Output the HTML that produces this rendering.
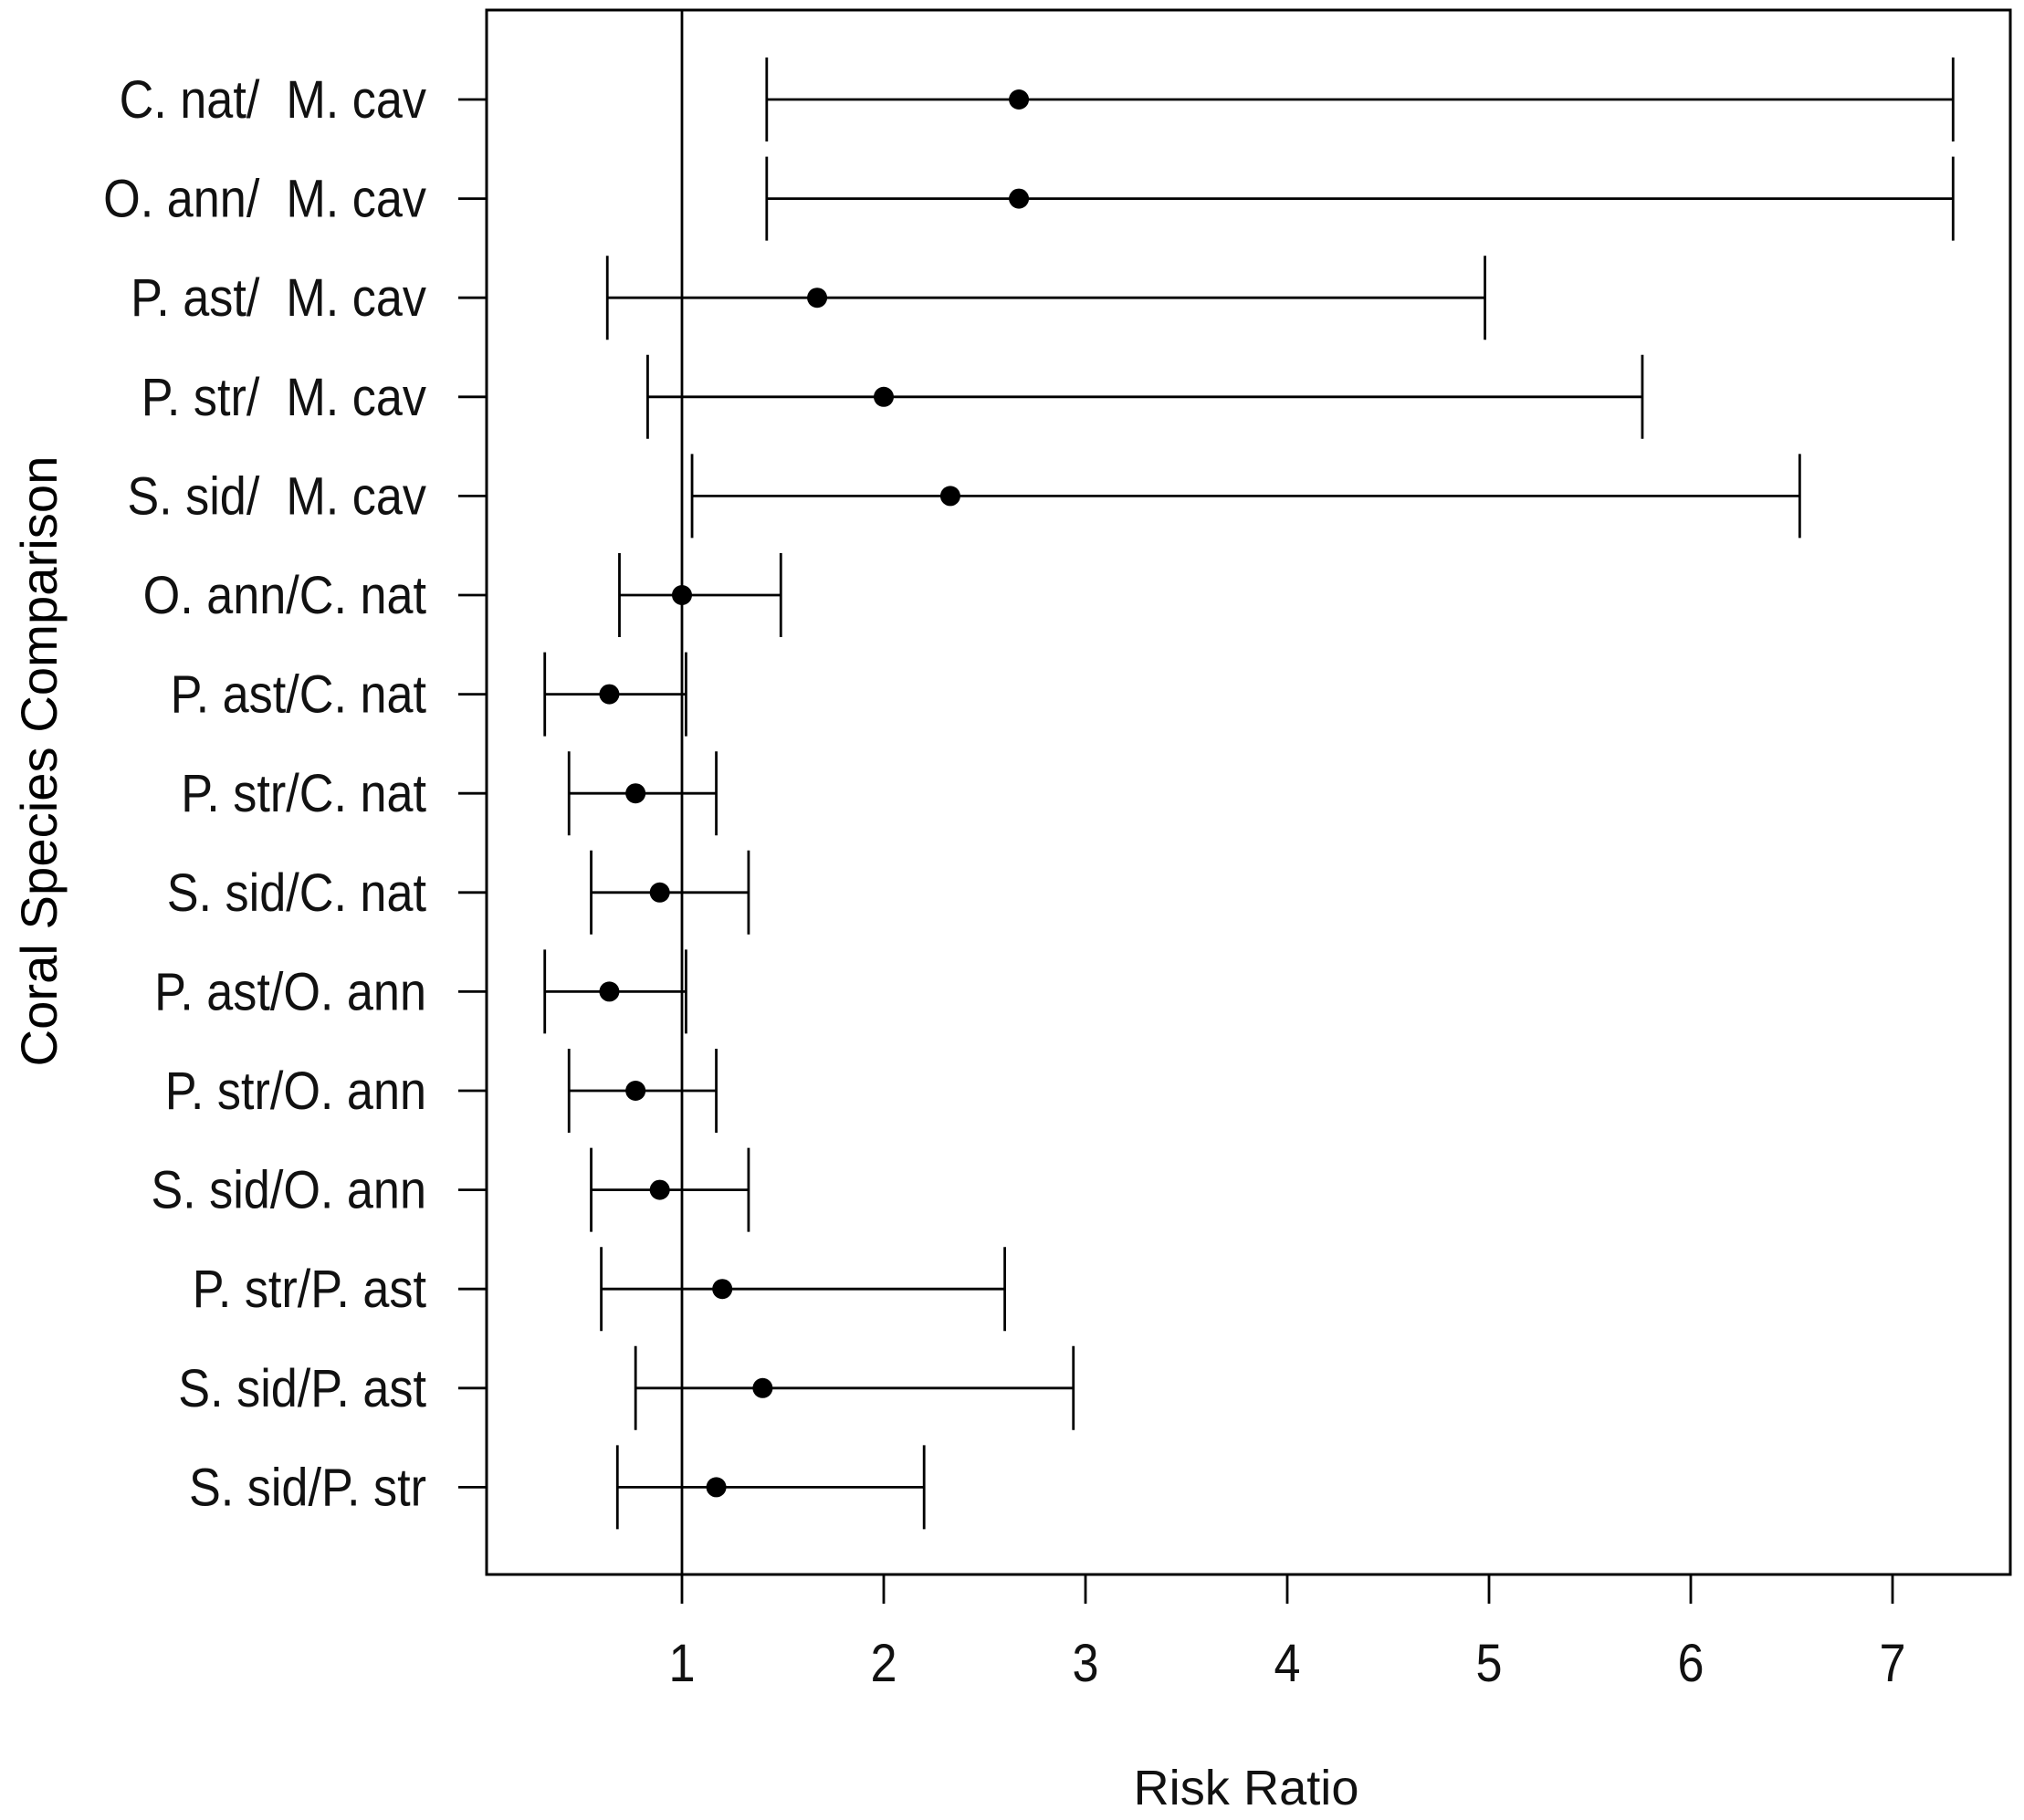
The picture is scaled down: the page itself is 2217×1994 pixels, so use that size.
<!DOCTYPE html>
<html><head><meta charset="utf-8"><style>html,body{margin:0;padding:0;background:#fff}svg{display:block}text{white-space:pre}</style></head>
<body>
<svg id="chart" width="2217" height="1994" xmlns="http://www.w3.org/2000/svg" font-family="Liberation Sans, Arial, sans-serif">
<rect width="2217" height="1994" fill="#fff"/>
<g id="plot"></g>
</svg>
<script>
const labels=["C. nat/  M. cav","O. ann/  M. cav","P. ast/  M. cav","P. str/  M. cav","S. sid/  M. cav","O. ann/C. nat","P. ast/C. nat","P. str/C. nat","S. sid/C. nat","P. ast/O. ann","P. str/O. ann","S. sid/O. ann","P. str/P. ast","S. sid/P. ast","S. sid/P. str"];
const estimates=[2.67,2.67,1.67,2.0,2.33,1.0,0.64,0.77,0.89,0.64,0.77,0.89,1.2,1.4,1.17];
const lower=[1.42,1.42,0.63,0.83,1.05,0.69,0.32,0.44,0.55,0.32,0.44,0.55,0.6,0.77,0.68];
const upper=[7.3,7.3,4.98,5.76,6.54,1.49,1.02,1.17,1.33,1.02,1.17,1.33,2.6,2.94,2.2];
const xTicks=[1,2,3,4,5,6,7];
const NS="http://www.w3.org/2000/svg";
const g=document.getElementById('plot');
const L=533,R=2202,T=11,B=1725;
const xs=v=>747+(v-1)*221;
const ys=i=>109+i*108.6;
function mk(t,a){const e=document.createElementNS(NS,t);for(const k in a)e.setAttribute(k,a[k]);g.appendChild(e);return e;}
let e;
e=mk('rect',{x:L,y:T,width:R-L,height:B-T,fill:'none',stroke:'#000','stroke-width':3});


e=mk('line',{x1:xs(1),x2:xs(1),y1:T,y2:B,stroke:'#000','stroke-width':2.8});


xTicks.forEach(v=>{
  e=mk('line',{x1:xs(v),x2:xs(v),y1:B,y2:B+32,stroke:'#000','stroke-width':2.8});
  
  
  e=mk('text',{x:xs(v),y:1842,'font-size':58,'text-anchor':'middle',transform:`translate(${xs(v)},0) scale(0.9,1) translate(${-xs(v)},0)`,fill:'#111'});
  e.textContent=v;
  
  
});
labels.forEach((lab,i)=>{
  const y=ys(i);
  e=mk('line',{x1:502,x2:L,y1:y,y2:y,stroke:'#000','stroke-width':2.8});
  
  
  e=mk('text',{x:467,y:y+20,'font-size':58,'text-anchor':'end',transform:`translate(467,0) scale(0.9,1) translate(-467,0)`,fill:'#111'});
  e.textContent=lab;
  
  
  e=mk('line',{x1:xs(lower[i]),x2:xs(upper[i]),y1:y,y2:y,stroke:'#000','stroke-width':2.8});
  
  
  [lower[i],upper[i]].forEach(v=>{
    e=mk('line',{x1:xs(v),x2:xs(v),y1:y-46,y2:y+46,stroke:'#000','stroke-width':2.8});
    
    
  });
  e=mk('circle',{cx:xs(estimates[i]),cy:y,r:11,fill:'#000'});
  
  
});
e=mk('text',{x:1365,y:1977,'font-size':54,'text-anchor':'middle',textLength:247,lengthAdjust:'spacingAndGlyphs',fill:'#111'});
e.textContent='Risk Ratio';


e=mk('text',{x:0,y:0,'font-size':56,'text-anchor':'middle',textLength:669,lengthAdjust:'spacingAndGlyphs',transform:'translate(62,834) rotate(-90)',fill:'#000'});
e.textContent='Coral Species Comparison';


</script>
</body></html>
